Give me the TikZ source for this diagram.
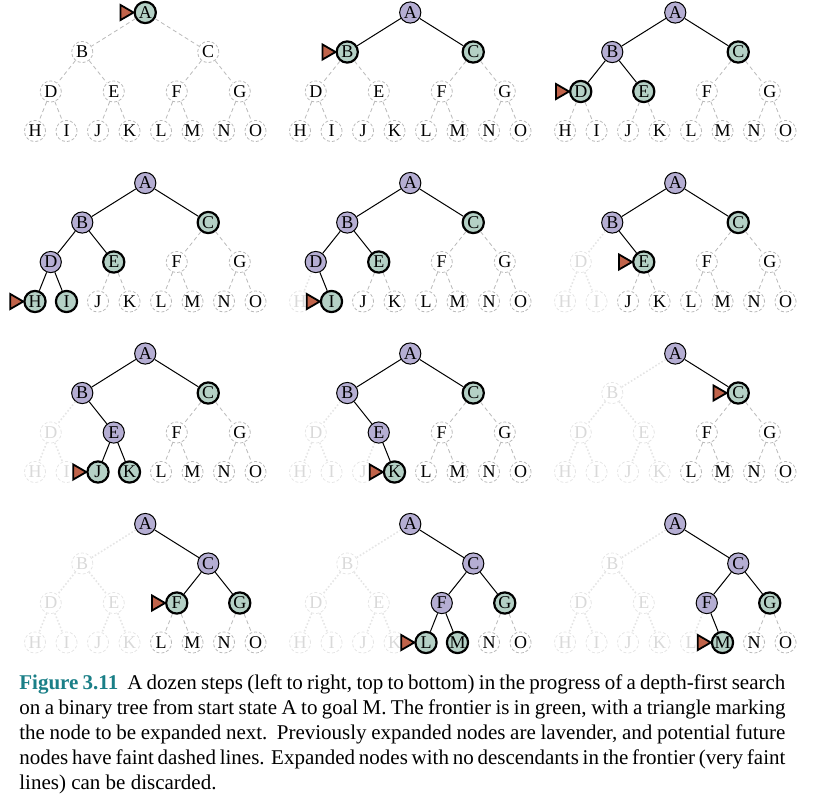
\documentclass[tikz,border=0pt]{standalone}
\usepackage{fontspec}
\setmainfont{Liberation Serif}

\definecolor{frontiergreen}{HTML}{B4D0C5}
\definecolor{expandedlav}{HTML}{B5AED3}
\definecolor{pointerred}{HTML}{C0634A}
\definecolor{figteal}{HTML}{1A7F87}

\tikzset{
    x=0.5pt, y=-0.5pt,
    tnode/.style={circle, minimum size=10.6pt, inner sep=0pt, font=\fontsize{9}{9}\selectfont},
    future node/.style={tnode, draw=gray!55, dash pattern=on 1.5pt off 1pt, line width=0.4pt},
    frontier node/.style={tnode, draw=black, fill=frontiergreen, line width=1.1pt},
    expanded node/.style={tnode, draw=black, fill=expandedlav, line width=0.5pt},
    discarded node/.style={tnode, draw=gray!20, text=gray!30, dash pattern=on 1.5pt off 1pt, line width=0.4pt},
    future edge/.style={draw=gray!55, dash pattern=on 2pt off 1.5pt, line width=0.4pt},
    frontier edge/.style={draw=black, line width=0.5pt},
    expanded edge/.style={draw=black, line width=0.5pt},
    discarded edge/.style={draw=gray!20, densely dotted, line width=0.8pt},
    pointer/.style={fill=pointerred, draw=black, line width=0.9pt, line join=miter},
    is/.style 2 args={n#1/.style={#2 node}, e#1/.style={#2 edge}},
    % every node starts as a potential future node
    is={A}{future}, is={B}{future}, is={C}{future}, is={D}{future}, is={E}{future},
    is={F}{future}, is={G}{future}, is={H}{future}, is={I}{future}, is={J}{future},
    is={K}{future}, is={L}{future}, is={M}{future}, is={N}{future}, is={O}{future},
}

% one binary tree, #1 = panel number
\newcommand\drawtree[1]{%
    \node[nA] (A#1) at (145.25,12.5) {A};
    \node[nB] (B#1) at (82.25,52) {B};
    \node[nC] (C#1) at (208.25,52) {C};
    \node[nD] (D#1) at (50.75,91.5) {D};
    \node[nE] (E#1) at (113.75,91.5) {E};
    \node[nF] (F#1) at (176.75,91.5) {F};
    \node[nG] (G#1) at (239.75,91.5) {G};
    \node[nH] (H#1) at (35,131) {H};
    \node[nI] (I#1) at (66.5,131) {I};
    \node[nJ] (J#1) at (98,131) {J};
    \node[nK] (K#1) at (129.5,131) {K};
    \node[nL] (L#1) at (161,131) {L};
    \node[nM] (M#1) at (192.5,131) {M};
    \node[nN] (N#1) at (224,131) {N};
    \node[nO] (O#1) at (255.5,131) {O};
    \draw[eB] (A#1) -- (B#1);
    \draw[eC] (A#1) -- (C#1);
    \draw[eD] (B#1) -- (D#1);
    \draw[eE] (B#1) -- (E#1);
    \draw[eF] (C#1) -- (F#1);
    \draw[eG] (C#1) -- (G#1);
    \draw[eH] (D#1) -- (H#1);
    \draw[eI] (D#1) -- (I#1);
    \draw[eJ] (E#1) -- (J#1);
    \draw[eK] (E#1) -- (K#1);
    \draw[eL] (F#1) -- (L#1);
    \draw[eM] (F#1) -- (M#1);
    \draw[eN] (G#1) -- (N#1);
    \draw[eO] (G#1) -- (O#1);
}
% triangle marking the node to be expanded next
\newcommand\nextnode[1]{\draw[pointer] (#1.west) -- ++(-13,-7.5) -- ++(0,15) -- cycle;}

\begin{document}
\begin{tikzpicture}
    \useasboundingbox (0,0) rectangle (835,800);

    % row 1
    \begin{scope}[shift={(0,0)}, is={A}{frontier}]
        \drawtree{1}
        \nextnode{A1}
    \end{scope}
    \begin{scope}[shift={(265,0)}, is={A}{expanded}, is={B}{frontier}, is={C}{frontier}]
        \drawtree{2}
        \nextnode{B2}
    \end{scope}
    \begin{scope}[shift={(530,0)}, is={A}{expanded}, is={B}{expanded}, is={C}{frontier},
            is={D}{frontier}, is={E}{frontier}]
        \drawtree{3}
        \nextnode{D3}
    \end{scope}

    % row 2
    \begin{scope}[shift={(0,170.5)}, is={A}{expanded}, is={B}{expanded}, is={D}{expanded},
            is={C}{frontier}, is={E}{frontier}, is={H}{frontier}, is={I}{frontier}]
        \drawtree{4}
        \nextnode{H4}
    \end{scope}
    \begin{scope}[shift={(265,170.5)}, is={A}{expanded}, is={B}{expanded}, is={D}{expanded},
            is={C}{frontier}, is={E}{frontier}, is={I}{frontier}, is={H}{discarded}]
        \drawtree{5}
        \nextnode{I5}
    \end{scope}
    \begin{scope}[shift={(530,170.5)}, is={A}{expanded}, is={B}{expanded},
            is={C}{frontier}, is={E}{frontier},
            is={D}{discarded}, is={H}{discarded}, is={I}{discarded}]
        \drawtree{6}
        \nextnode{E6}
    \end{scope}

    % row 3
    \begin{scope}[shift={(0,341)}, is={A}{expanded}, is={B}{expanded}, is={E}{expanded},
            is={C}{frontier}, is={J}{frontier}, is={K}{frontier},
            is={D}{discarded}, is={H}{discarded}, is={I}{discarded}]
        \drawtree{7}
        \nextnode{J7}
    \end{scope}
    \begin{scope}[shift={(265,341)}, is={A}{expanded}, is={B}{expanded}, is={E}{expanded},
            is={C}{frontier}, is={K}{frontier},
            is={D}{discarded}, is={H}{discarded}, is={I}{discarded}, is={J}{discarded}]
        \drawtree{8}
        \nextnode{K8}
    \end{scope}
    \begin{scope}[shift={(530,341)}, is={A}{expanded}, is={C}{frontier},
            is={B}{discarded}, is={D}{discarded}, is={E}{discarded}, is={H}{discarded},
            is={I}{discarded}, is={J}{discarded}, is={K}{discarded}]
        \drawtree{9}
        \nextnode{C9}
    \end{scope}

    % row 4
    \begin{scope}[shift={(0,511.5)}, is={A}{expanded}, is={C}{expanded},
            is={F}{frontier}, is={G}{frontier},
            is={B}{discarded}, is={D}{discarded}, is={E}{discarded}, is={H}{discarded},
            is={I}{discarded}, is={J}{discarded}, is={K}{discarded}]
        \drawtree{10}
        \nextnode{F10}
    \end{scope}
    \begin{scope}[shift={(265,511.5)}, is={A}{expanded}, is={C}{expanded}, is={F}{expanded},
            is={G}{frontier}, is={L}{frontier}, is={M}{frontier},
            is={B}{discarded}, is={D}{discarded}, is={E}{discarded}, is={H}{discarded},
            is={I}{discarded}, is={J}{discarded}, is={K}{discarded}]
        \drawtree{11}
        \nextnode{L11}
    \end{scope}
    \begin{scope}[shift={(530,511.5)}, is={A}{expanded}, is={C}{expanded}, is={F}{expanded},
            is={G}{frontier}, is={M}{frontier},
            is={B}{discarded}, is={D}{discarded}, is={E}{discarded}, is={H}{discarded},
            is={I}{discarded}, is={J}{discarded}, is={K}{discarded}, is={L}{discarded}]
        \drawtree{12}
        \nextnode{M12}
    \end{scope}

    % caption
    \node[anchor=base west, inner sep=0pt] (caption) at (19,689) {\parbox[t]{383pt}{%
        \fontsize{10.5pt}{12.5pt}\selectfont
        \textcolor{figteal}{\textbf{Figure 3.11}}\hspace{4.5pt}A dozen steps (left to right, top to bottom) in the progress of a depth-first search\linebreak
        on a binary tree from start state A to goal M. The frontier is in green, with a triangle marking\linebreak
        the node to be expanded next.\ \ Previously expanded nodes are lavender, and potential future\linebreak
        nodes have faint dashed lines. Expanded nodes with no descendants in the frontier (very faint\linebreak
        lines) can be discarded.}};
\end{tikzpicture}
\end{document}
